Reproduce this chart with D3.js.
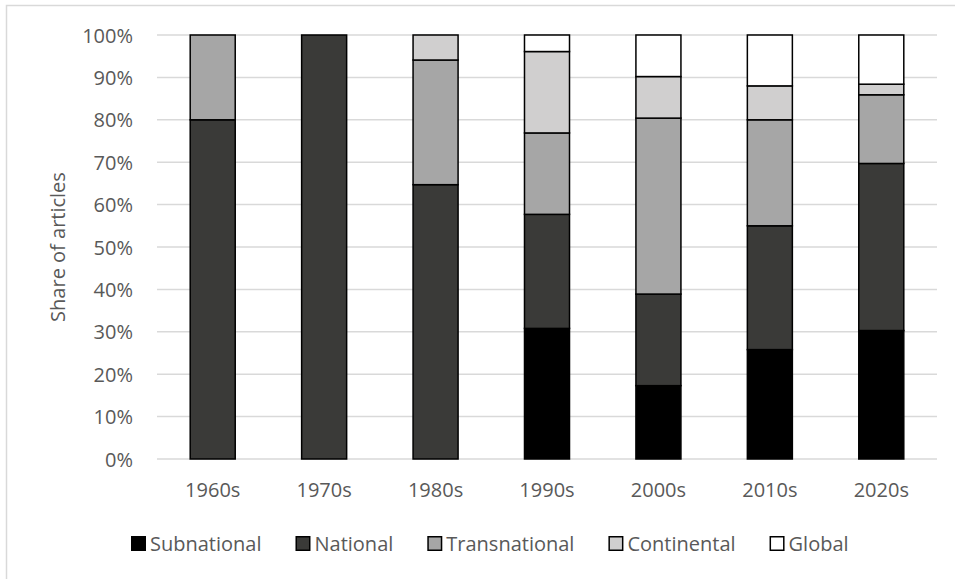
<!DOCTYPE html>
<html><head><meta charset="utf-8">
<script src="https://cdn.jsdelivr.net/npm/d3@7/dist/d3.min.js"></script>
<style>body{margin:0;background:#fff}svg{display:block}</style>
</head><body>
<svg id="c" width="955" height="579"></svg>
<script>
const categories = ["1960s","1970s","1980s","1990s","2000s","2010s","2020s"];
const seriesNames = ["Subnational","National","Transnational","Continental","Global"];
const subnational   = [0, 0, 0,    30.8, 17.3, 25.8, 30.3];
const national      = [80, 100, 64.7, 26.9, 21.6, 29.2, 39.4];
const transnational = [20, 0, 29.4, 19.2, 41.5, 25.0, 16.2];
const continental   = [0, 0, 5.9,  19.2, 9.8,  8.0,  2.5];
const global        = [0, 0, 0,    3.9,  9.8, 12.0, 11.6];
const yTicks = [0,10,20,30,40,50,60,70,80,90,100];
const colors = ["#000000","#3a3a38","#a6a6a6","#d0cfcf","#ffffff"];

const svg = d3.select("#c");
const font = "'Open Sans', sans-serif";
const textCol = "#595959";

// chart border
svg.append("rect").attr("x",6.5).attr("y",5.5).attr("width",1000).attr("height",700)
  .attr("fill","none").attr("stroke","#d9d9d9").attr("stroke-width",1.5);

const m = {left:157, right:937, top:35, bottom:459};
const x = d3.scaleBand().domain(categories).range([m.left,m.right]).paddingInner(0.596).paddingOuter(0.298);
const y = d3.scaleLinear().domain([0,100]).range([m.bottom,m.top]);

// gridlines
svg.append("g").selectAll("line").data(yTicks).join("line")
  .attr("x1",m.left).attr("x2",m.right)
  .attr("y1",d=>y(d)).attr("y2",d=>y(d))
  .attr("stroke","#d9d9d9").attr("stroke-width",1.5);

// y axis labels
const yAxis = d3.axisLeft(y).tickValues(yTicks).tickFormat(d=>d+"%").tickSize(0).tickPadding(0);
const gy = svg.append("g").attr("transform",`translate(${m.left-24},0)`).call(yAxis);
gy.select(".domain").remove();
gy.selectAll("text").attr("font-family",font).attr("font-size",20).attr("fill",textCol).attr("dy","0.35em");

// x axis labels
const xAxis = d3.axisBottom(x).tickSize(0).tickPadding(0);
const gx = svg.append("g").attr("transform",`translate(0,${m.bottom+23})`).call(xAxis);
gx.select(".domain").remove();
gx.selectAll("text").attr("font-family",font).attr("font-size",20).attr("fill",textCol).attr("dy","0.75em");

// stacked data
const rows = categories.map((c,i)=>({cat:c, Subnational:subnational[i], National:national[i],
  Transnational:transnational[i], Continental:continental[i], Global:global[i]}));
const stack = d3.stack().keys(seriesNames)(rows);

svg.append("g").selectAll("g").data(stack).join("g")
  .attr("fill",(d,i)=>colors[i])
  .selectAll("rect").data(d=>d.filter(p=>p[1]-p[0]>0)).join("rect")
  .attr("x",d=>x(d.data.cat)).attr("width",x.bandwidth())
  .attr("y",d=>y(d[1])).attr("height",d=>y(d[0])-y(d[1]))
  .attr("stroke","#000").attr("stroke-width",1.5);

// y title
svg.append("text").attr("transform",`translate(65,${(m.top+m.bottom)/2}) rotate(-90)`)
  .attr("text-anchor","middle").attr("font-family",font).attr("font-size",20).attr("fill",textCol)
  .text("Share of articles");

// legend
const lg = svg.append("g");
let lx = 131;
seriesNames.forEach((n,i)=>{
  const g = lg.append("g").attr("transform",`translate(${lx},0)`);
  g.append("rect").attr("x",0.75).attr("y",536.75).attr("width",13.5).attr("height",13.5)
    .attr("fill",colors[i]).attr("stroke","#000").attr("stroke-width",1.5);
  const t = g.append("text").attr("x",19).attr("y",551).attr("font-family",font).attr("font-size",20)
    .attr("fill",textCol).text(n);
  lx += 19 + t.node().getComputedTextLength() + 34;
});
</script>
</body></html>
